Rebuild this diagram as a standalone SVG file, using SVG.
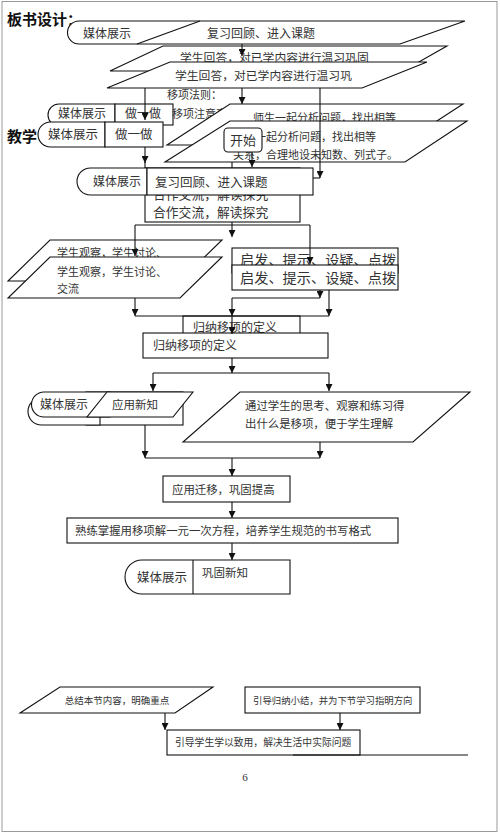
<svg xmlns="http://www.w3.org/2000/svg" width="500" height="834" viewBox="0 0 500 834">
<defs>
<style>
.s{fill:#fff;stroke:#111;stroke-width:1.1}
.l{fill:none;stroke:#111;stroke-width:1.1}
.t{font-family:"Noto Sans CJK SC","Liberation Serif",sans-serif;fill:#333}
.h{font-family:"Noto Sans CJK SC",sans-serif;font-weight:bold;fill:#111}
</style>
<marker id="a" markerUnits="userSpaceOnUse" markerWidth="7" markerHeight="7" refX="7" refY="3.5" orient="auto">
<path d="M0,0 L7,3.5 L0,7 Z" fill="#111"/>
</marker>
</defs>
<rect x="0" y="0" width="500" height="834" fill="#fff"/>
<rect x="2" y="1.5" width="495" height="830" fill="none" stroke="#999" stroke-width="1"/>

<g id="title1"><text class="h" x="7" y="25" font-size="15">板书设计：</text></g>

<g id="n1">
<path class="s" d="M79,21 H465 L400,44 H79 A11.5,11.5 0 0 1 79,21 Z"/>
<line class="l" x1="200" y1="21" x2="137" y2="44"/>
<text class="t" x="83" y="38" font-size="12">媒体展示</text>
<text class="t" x="207" y="38" font-size="12">复习回顾、进入课题</text>
</g>

<g id="n2">
<polygon class="s" points="163,46 447,46 403,71 110,71"/>
<text class="t" x="180" y="62" font-size="11.8">学生回答，对已学内容进行温习巩固</text>
</g>

<g id="n3">
<polygon class="s" points="170,62 427,62 362,88 107,88"/>
<text class="t" x="175" y="80" font-size="11.8">学生回答，对已学内容进行温习巩</text>
</g>

<g id="lbl1"><text class="t" x="167" y="99" font-size="11">移项法则：</text></g>

<g id="n4">
<path class="s" d="M59,104 H115 V126 H59 A11,11 0 0 1 59,104 Z"/>
<rect class="s" x="115" y="104" width="58" height="21"/>
<text class="t" x="58" y="118" font-size="12">媒体展示</text>
<text class="t" x="125" y="118" font-size="12">做一做</text>
</g>
<g id="lbl2"><text class="t" x="172" y="118" font-size="11">移项注意事</text></g>

<g id="n5">
<polygon class="s" points="230,104 463,104 400,145 167,145"/>
<text class="t" x="253" y="122" font-size="11">师生一起分析问题，找出相等</text>
</g>

<g id="n6">
<polygon class="s" points="230,121 467,121 405,162 165,162"/>
<text class="t" x="233" y="141" font-size="11">师生一起分析问题，找出相等</text>
<text class="t" x="233" y="159" font-size="11">关系，合理地设未知数、列式子。</text>
</g>

<g id="n7">
<path class="s" d="M50.5,122 H105 V147 H50.5 A12.5,12.5 0 0 1 50.5,122 Z"/>
<rect class="s" x="105" y="122" width="58" height="25"/>
<text class="t" x="48" y="139" font-size="12.5">媒体展示</text>
<text class="t" x="115" y="139" font-size="12.5">做一做</text>
</g>
<g id="title2"><text class="h" x="7" y="142" font-size="15">教学</text></g>

<g id="start">
<rect class="s" x="224" y="128" width="38" height="24" rx="4"/>
<text class="t" x="243" y="145" font-size="13" text-anchor="middle">开始</text>
</g>

<g id="n8">
<rect class="s" x="145" y="168" width="155" height="54"/>
<text class="t" x="153" y="199" font-size="12.8">合作交流，解读探究</text>
<text class="t" x="153" y="217" font-size="12.8">合作交流，解读探究</text>
</g>

<g id="n9">
<path class="s" d="M90.5,168 H147 V195 H90.5 A13.5,13.5 0 0 1 90.5,168 Z"/>
<rect class="s" x="147" y="168" width="166" height="27"/>
<text class="t" x="93" y="186" font-size="12">媒体展示</text>
<text class="t" x="155" y="187" font-size="12.5">复习回顾、进入课题</text>
</g>

<g id="n10">
<polygon class="s" points="50,240 222,240 180,281 8,281"/>
<text class="t" x="57" y="257" font-size="11">学生观察，学生讨论、</text>
</g>
<g id="n11">
<polygon class="s" points="50,257 222,257 180,298 8,298"/>
<text class="t" x="57" y="276" font-size="11">学生观察，学生讨论、</text>
<text class="t" x="57" y="293" font-size="11">交流</text>
</g>

<g id="n12">
<rect class="s" x="232" y="248" width="166" height="25"/>
<text class="t" x="240" y="265" font-size="14.2">启发、提示、设疑、点拨</text>
</g>
<g id="n13">
<rect class="s" x="232" y="265" width="166" height="25"/>
<text class="t" x="240" y="283" font-size="14.2">启发、提示、设疑、点拨</text>
</g>

<g id="n14">
<rect class="s" x="183" y="316" width="117" height="24"/>
<text class="t" x="193" y="332" font-size="12">归纳移项的定义</text>
</g>
<g id="n15">
<rect class="s" x="143" y="333" width="185" height="25"/>
<text class="t" x="153" y="350" font-size="12">归纳移项的定义</text>
</g>

<g id="n16">
<rect class="s" x="86" y="392" width="97" height="33"/>
<path class="s" d="M41.5,398 H100 V425 H41.5 A13.5,13.5 0 0 1 41.5,398 Z"/>
<path class="s" d="M44,392 H110 V417 H44 A12.5,12.5 0 0 1 44,392 Z"/>
<polygon class="s" points="107,392 193,392 173,417 87,417"/>
<text class="t" x="40" y="409" font-size="12">媒体展示</text>
<text class="t" x="112" y="409" font-size="11.5">应用新知</text>
</g>

<g id="n17">
<polygon class="s" points="240,392 470,392 413,442 183,442"/>
<text class="t" x="245" y="410" font-size="11.4">通过学生的思考、观察和练习得</text>
<text class="t" x="245" y="428" font-size="11.4">出什么是移项，便于学生理解</text>
</g>

<g id="n18">
<rect class="s" x="163" y="476" width="127" height="26"/>
<text class="t" x="172" y="494" font-size="11.4">应用迁移，巩固提高</text>
</g>

<g id="n19">
<rect class="s" x="67" y="518" width="331" height="25"/>
<text class="t" x="75" y="535" font-size="11.4">熟练掌握用移项解一元一次方程，培养学生规范的书写格式</text>
</g>

<g id="n20">
<path class="s" d="M142,560 H290 V594 H142 A17,17 0 0 1 142,560 Z"/>
<line class="l" x1="193" y1="560" x2="193" y2="594"/>
<text class="t" x="137" y="582" font-size="12.5">媒体展示</text>
<text class="t" x="202" y="577" font-size="11.5">巩固新知</text>
</g>

<g id="n21">
<polygon class="s" points="60,687 213,687 175,713 20,713"/>
<text class="t" x="117" y="704" font-size="9.5" text-anchor="middle">总结本节内容，明确重点</text>
</g>
<g id="n22">
<rect class="s" x="245" y="687" width="175" height="26"/>
<text class="t" x="253" y="704" font-size="9.4">引导归纳小结，并为下节学习指明方向</text>
</g>
<g id="n23">
<rect class="s" x="167" y="730" width="193" height="25"/>
<line class="l" x1="293" y1="755" x2="468" y2="755"/>
<text class="t" x="175" y="746" font-size="9.8">引导学生学以致用，解决生活中实际问题</text>
</g>

<g id="page"><text x="245" y="781" font-family="Liberation Serif, serif" font-size="11" fill="#333" text-anchor="middle">6</text></g>

<g id="connectors">
<line class="l" x1="242" y1="44" x2="242" y2="56" marker-end="url(#a)"/>
<line class="l" x1="145" y1="88" x2="145" y2="120" marker-end="url(#a)"/>
<line class="l" x1="242" y1="88" x2="242" y2="104" marker-end="url(#a)"/>
<line class="l" x1="320" y1="88" x2="320" y2="178" marker-end="url(#a)"/>
<line class="l" x1="313" y1="178" x2="320" y2="178"/>
<line class="l" x1="145" y1="147" x2="145" y2="163" marker-end="url(#a)"/>
<line class="l" x1="145" y1="162" x2="145" y2="168"/>
<line class="l" x1="252" y1="152" x2="252" y2="167" marker-end="url(#a)"/>
<line class="l" x1="232" y1="162" x2="232" y2="168"/>
<line class="l" x1="232" y1="222" x2="232" y2="225"/>
<line class="l" x1="135" y1="225" x2="310" y2="225"/>
<line class="l" x1="135" y1="225" x2="135" y2="256" marker-end="url(#a)"/>
<line class="l" x1="232" y1="225" x2="232" y2="237" marker-end="url(#a)"/>
<line class="l" x1="310" y1="225" x2="310" y2="264" marker-end="url(#a)"/>
<line class="l" x1="320" y1="290" x2="320" y2="298" marker-end="url(#a)"/>
<line class="l" x1="232" y1="298" x2="320" y2="298"/>
<line class="l" x1="135" y1="298" x2="135" y2="316" marker-end="url(#a)"/>
<line class="l" x1="232" y1="298" x2="232" y2="316" marker-end="url(#a)"/>
<line class="l" x1="329" y1="290" x2="329" y2="316" marker-end="url(#a)"/>
<line class="l" x1="135" y1="316" x2="329" y2="316"/>
<line class="l" x1="232" y1="316" x2="232" y2="334" marker-end="url(#a)"/>
<line class="l" x1="232" y1="358" x2="232" y2="373" marker-end="url(#a)"/>
<line class="l" x1="153" y1="373" x2="329" y2="373"/>
<line class="l" x1="153" y1="373" x2="153" y2="391" marker-end="url(#a)"/>
<line class="l" x1="329" y1="373" x2="329" y2="391" marker-end="url(#a)"/>
<line class="l" x1="145" y1="425" x2="145" y2="458" marker-end="url(#a)"/>
<line class="l" x1="320" y1="442" x2="320" y2="458" marker-end="url(#a)"/>
<line class="l" x1="145" y1="458" x2="320" y2="458"/>
<line class="l" x1="232" y1="458" x2="232" y2="476" marker-end="url(#a)"/>
<line class="l" x1="232" y1="502" x2="232" y2="518" marker-end="url(#a)"/>
<line class="l" x1="232" y1="543" x2="232" y2="560" marker-end="url(#a)"/>
<line class="l" x1="165" y1="713" x2="165" y2="730" marker-end="url(#a)"/>
<line class="l" x1="340" y1="713" x2="340" y2="730" marker-end="url(#a)"/>
</g>
</svg>
